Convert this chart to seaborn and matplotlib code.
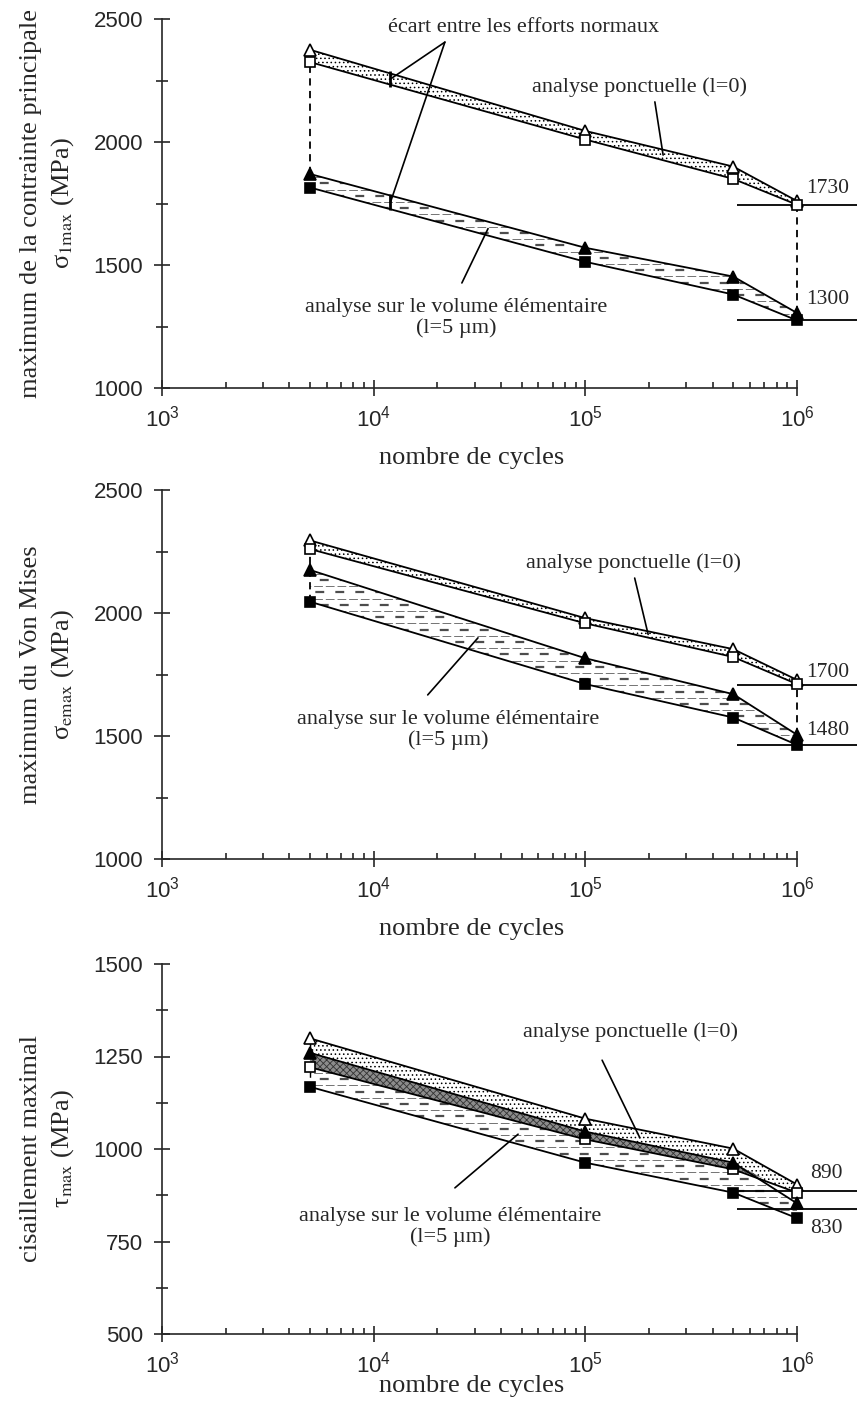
import numpy as np
import pandas as pd
import matplotlib
matplotlib.use("Agg")
import matplotlib.pyplot as plt
from matplotlib.ticker import LogLocator, MultipleLocator, FuncFormatter, NullFormatter
import seaborn as sns

# ---------------------------------
# Données
# ---------------------------------
cycles = [5e3, 1e5, 5e5, 1e6]

# contrainte principale max
p1_pt_tri = [2375, 2045, 1900, 1760]
p1_pt_sq = [2325, 2010, 1850, 1745]
p1_vol_tri = [1870, 1570, 1453, 1305]
p1_vol_sq = [1815, 1513, 1380, 1275]
p1_ref = [1745, 1278]
p1_ref_txt = ["1730", "1300"]

# Von Mises
p2_pt_tri = [2295, 1979, 1853, 1728]
p2_pt_sq = [2260, 1958, 1821, 1711]
p2_vol_tri = [2175, 1816, 1670, 1505]
p2_vol_sq = [2046, 1711, 1575, 1464]
p2_ref = [1708, 1464]
p2_ref_txt = ["1700", "1480"]

# cisaillement max
p3_pt_tri = [1299, 1082, 1001, 904]
p3_pt_sq = [1221, 1026, 945, 882]
p3_vol_tri = [1260, 1047, 963, 853]
p3_vol_sq = [1168, 963, 882, 813]
p3_ref = [886, 838]
p3_ref_txt = ["890", "830"]

# ---------------------------------
# Style
# ---------------------------------
sns.set_style("ticks")
plt.rcParams["font.family"] = ["Liberation Serif", "DejaVu Serif"]
plt.rcParams["mathtext.fontset"] = "custom"
plt.rcParams["mathtext.rm"] = "Liberation Sans"
plt.rcParams["mathtext.it"] = "Liberation Sans:italic"
plt.rcParams["hatch.linewidth"] = 0.6

XMAX = 1.92e6
W = 857
H = 1402


def box(top, bottom):
    return [162 / W, (H - bottom) / H, 695 / W, (bottom - top) / H]


fig = plt.figure(figsize=(8.57, 14.02), dpi=100)
ax1 = fig.add_axes(box(19, 388))
ax2 = fig.add_axes(box(490, 859))
ax3 = fig.add_axes(box(964, 1334))


def dashed_band(ax, lower, upper, ylim):
    # bande remplie de tirets horizontaux (alternance fin / épais)
    poly = ax.fill_between(cycles, lower, upper, facecolor="white", linewidth=0, zorder=1)
    clip = poly.get_paths()[0]
    step = 6.2 / 369 * (ylim[1] - ylim[0])
    for i, yy in enumerate(np.arange(ylim[0], ylim[1], step)):
        if i % 2:
            ln = ax.axhline(yy, color="0.3", lw=1.6, ls=(i % 4, (4, 5)), zorder=1.2)
        else:
            ln = ax.axhline(yy, color="0.45", lw=0.7, ls=(0, (9, 3)), zorder=1.2)
        ln.set_clip_path(clip, ax.transData)


def draw_panel(ax, pt_tri, pt_sq, vol_tri, vol_sq, ylim, major, minor):
    ax.set_xscale("log")
    ax.set_xlim(1e3, XMAX)
    ax.set_ylim(*ylim)

    # bandes hachurées
    ax.fill_between(cycles, pt_sq, pt_tri, facecolor="white", edgecolor="black",
                    hatch="....", linewidth=0, zorder=1)
    dashed_band(ax, vol_sq, vol_tri, ylim)

    series = [
        (pt_tri, "^", "white"),
        (pt_sq, "s", "white"),
        (vol_tri, "^", "black"),
        (vol_sq, "s", "black"),
    ]
    for vals, mk, fc in series:
        df = pd.DataFrame({"cycles": cycles, "val": vals})
        sns.lineplot(data=df, x="cycles", y="val", ax=ax, color="black", lw=1.3,
                     marker=mk, markersize=8.5 if mk == "^" else 7.5,
                     markerfacecolor=fc, markeredgecolor="black",
                     markeredgewidth=1.2, zorder=4)

    ax.set_xlim(1e3, XMAX)
    ax.set_ylim(*ylim)
    ax.spines["top"].set_visible(False)
    ax.spines["right"].set_visible(False)
    ax.spines["bottom"].set_bounds(1e3, 1e6)
    ax.spines["left"].set_linewidth(1.2)
    ax.spines["bottom"].set_linewidth(1.2)

    ax.xaxis.set_major_locator(LogLocator(base=10, numticks=10))
    ax.xaxis.set_minor_locator(LogLocator(base=10, subs=np.arange(2, 10), numticks=20))
    ax.xaxis.set_major_formatter(
        FuncFormatter(lambda v, p: r"$\mathdefault{10^{%d}}$" % round(np.log10(v))))
    ax.xaxis.set_minor_formatter(NullFormatter())
    ax.yaxis.set_major_locator(MultipleLocator(major))
    ax.yaxis.set_minor_locator(MultipleLocator(minor))

    ax.tick_params(axis="both", which="major", direction="inout", length=11.5,
                   width=1.2, labelsize=16, labelfontfamily="Liberation Sans")
    ax.tick_params(axis="y", which="major", pad=8)
    ax.tick_params(axis="x", which="major", pad=7)
    ax.tick_params(axis="y", which="minor", direction="inout", length=8.5, width=1.2)
    ax.tick_params(axis="x", which="minor", direction="in", length=4.5, width=1.2)
    ax.grid(False)

    ax.set_xlabel("nombre de cycles", fontsize=19)
    ax.xaxis.set_label_coords(0.445, -0.16)


def ref_lines(ax, refs, labels, label_y, xtxt=1.1e6):
    ax.hlines(refs, 5.2e5, XMAX, color="black", lw=1.3, zorder=3, clip_on=False)
    for txt, yy in zip(labels, label_y):
        ax.text(xtxt, yy, txt, fontsize=15.5, ha="left", va="center")


def pointer(ax, text, xy_text, xy_from, xy_to, bar=False):
    ax.text(*xy_text, text, fontsize=16, ha="center", va="center", linespacing=1.1)
    ax.annotate("", xy=xy_to, xytext=xy_from,
                arrowprops=dict(arrowstyle="-", lw=1.2, color="black",
                                shrinkA=0, shrinkB=0), zorder=5)
    if bar:
        ax.plot([xy_to[0]], [xy_to[1]], marker="|", ms=11, mew=2, color="black", zorder=5)


# ---------------------------------
# Panneau 1 : contrainte principale
# ---------------------------------
draw_panel(ax1, p1_pt_tri, p1_pt_sq, p1_vol_tri, p1_vol_sq, (1000, 2500), 500, 250)
ax1.vlines(cycles[0], p1_vol_tri[0], p1_pt_sq[0], colors="black", linestyles=(0, (4, 3)), lw=1.3, zorder=2)
ax1.vlines(cycles[-1], p1_vol_tri[-1], p1_pt_sq[-1], colors="black", linestyles=(0, (4, 3)), lw=1.3, zorder=2)
ref_lines(ax1, p1_ref, p1_ref_txt, [1813, 1358])
ax1.set_ylabel("maximum de la contrainte principale\nσ$_{\\rm 1max}$ (MPa)",
               fontsize=19, linespacing=1.35, math_fontfamily="stix")
ax1.yaxis.set_label_coords(-0.124, 0.5)

ax1.text(5.13e4, 2467, "écart entre les efforts normaux", fontsize=16, ha="center", va="center")
pointer(ax1, "", (5.13e4, 2467), (2.17e4, 2406), (1.2e4, 2256), bar=True)
pointer(ax1, "", (5.13e4, 2467), (2.17e4, 2406), (1.2e4, 1755), bar=True)
pointer(ax1, "analyse ponctuelle (l=0)", (1.81e5, 2224), (2.13e5, 2163), (2.33e5, 1947))
pointer(ax1, "analyse sur le volume élémentaire\n(l=5 µm)", (2.45e4, 1285),
        (2.61e4, 1427), (3.47e4, 1648))

# ---------------------------------
# Panneau 2 : Von Mises
# ---------------------------------
draw_panel(ax2, p2_pt_tri, p2_pt_sq, p2_vol_tri, p2_vol_sq, (1000, 2500), 500, 250)
ax2.vlines(cycles[0], p2_vol_sq[0], p2_pt_sq[0], colors="black", linestyles=(0, (4, 3)), lw=1.3, zorder=2)
ax2.vlines(cycles[-1], p2_vol_tri[-1], p2_pt_sq[-1], colors="black", linestyles=(0, (4, 3)), lw=1.3, zorder=2)
ref_lines(ax2, p2_ref, p2_ref_txt, [1760, 1524])
ax2.set_ylabel("maximum du Von Mises\nσ$_{\\rm emax}$ (MPa)",
               fontsize=19, linespacing=1.35, math_fontfamily="stix")
ax2.yaxis.set_label_coords(-0.124, 0.5)
pointer(ax2, "analyse ponctuelle (l=0)", (1.68e5, 2203), (1.71e5, 2142), (1.98e5, 1913))
pointer(ax2, "analyse sur le volume élémentaire\n(l=5 µm)", (2.24e4, 1524),
        (1.8e4, 1667), (3.11e4, 1899))

# ---------------------------------
# Panneau 3 : cisaillement
# ---------------------------------
draw_panel(ax3, p3_pt_tri, p3_pt_sq, p3_vol_tri, p3_vol_sq, (500, 1500), 250, 125)
ax3.fill_between(cycles, p3_pt_sq, p3_vol_tri,
                 where=np.array(p3_vol_tri) >= np.array(p3_pt_sq), interpolate=True,
                 facecolor="0.55", edgecolor="0.2", hatch="xxxxx", linewidth=0, zorder=1.5)
ax3.vlines(cycles[0], p3_vol_sq[0], p3_pt_tri[0], colors="black", linestyles=(0, (4, 3)), lw=1.0, zorder=2)
ref_lines(ax3, p3_ref, p3_ref_txt, [935, 786], xtxt=1.15e6)
ax3.set_ylabel("cisaillement maximal\nτ$_{\\rm max}$ (MPa)",
               fontsize=19, linespacing=1.35, math_fontfamily="stix")
ax3.yaxis.set_label_coords(-0.124, 0.5)
ax3.xaxis.set_label_coords(0.445, -0.11)
pointer(ax3, "analyse ponctuelle (l=0)", (1.63e5, 1316), (1.2e5, 1240), (1.81e5, 1030))
pointer(ax3, "analyse sur le volume élémentaire\n(l=5 µm)", (2.29e4, 790),
        (2.42e4, 895), (4.81e4, 1040))

fig.savefig("out.png", dpi=100)
